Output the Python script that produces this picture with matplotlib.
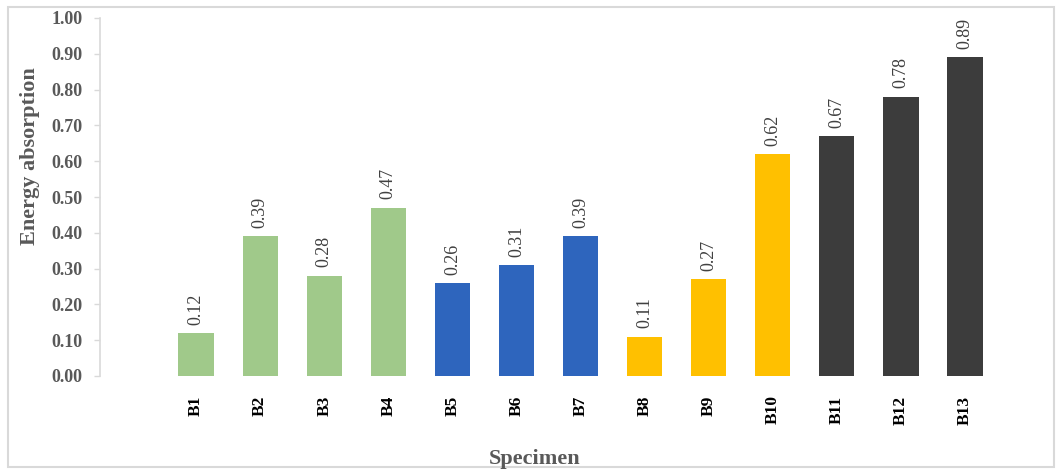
import matplotlib
matplotlib.use("Agg")
import matplotlib.pyplot as plt
from matplotlib.patches import Rectangle

specimens = ["B1", "B2", "B3", "B4", "B5", "B6", "B7", "B8", "B9", "B10", "B11", "B12", "B13"]
energy = [0.12, 0.39, 0.28, 0.47, 0.26, 0.31, 0.39, 0.11, 0.27, 0.62, 0.67, 0.78, 0.89]
groups = ["g", "g", "g", "g", "b", "b", "b", "y", "y", "y", "d", "d", "d"]
group_colors = {"g": "#a0c98a", "b": "#2e65bd", "y": "#ffc000", "d": "#3c3c3c"}
yticks = [0.0, 0.1, 0.2, 0.3, 0.4, 0.5, 0.6, 0.7, 0.8, 0.9, 1.0]

plt.rcParams["font.family"] = ["Liberation Serif", "DejaVu Serif"]

W, H = 1058, 472
fig = plt.figure(figsize=(W / 100, H / 100), dpi=100)
ax = fig.add_axes([100 / W, 96 / H, 897 / W, 358 / H])

x = list(range(len(specimens)))
colors = [group_colors[g] for g in groups]
bars = ax.bar(x, energy, width=0.55, color=colors, zorder=2)

for xi, v in zip(x, energy):
    ax.annotate(f"{v:.2f}", (xi, v), xytext=(0, 6), textcoords="offset points",
                rotation=90, ha="center", va="bottom", fontsize=13, color="#404040")

ax.set_xlim(-1.5, 12.5)
ax.set_ylim(0, 1.0)
ax.set_yticks(yticks)
ax.set_yticklabels([f"{t:.2f}" for t in yticks], fontsize=13, fontweight="bold", color="#595959")
ax.set_xticks(x)
ax.set_xticklabels(specimens, rotation=90, fontsize=12.5, fontweight="bold", color="black")
ax.tick_params(axis="x", length=0, pad=14)
ax.tick_params(axis="y", length=4, width=1, color="#d9d9d9", pad=8.5)

for s in ["top", "right", "bottom"]:
    ax.spines[s].set_visible(False)
ax.spines["left"].set_color("#d9d9d9")
ax.spines["left"].set_linewidth(1.2)

fig.text(30 / W, 1 - 156 / H, "Energy absorption", rotation=90, ha="center", va="center",
         fontsize=16, fontweight="bold", color="#595959")
fig.text(535 / W, 1 - 459 / H, "Specimen", ha="center", va="center",
         fontsize=16, fontweight="bold", color="#595959")

fig.patches.append(Rectangle((8 / W, 5 / H), 1046 / W, 460 / H, transform=fig.transFigure,
                             fill=False, edgecolor="#d9d9d9", linewidth=1.5))

fig.savefig("out.png", dpi=100)
